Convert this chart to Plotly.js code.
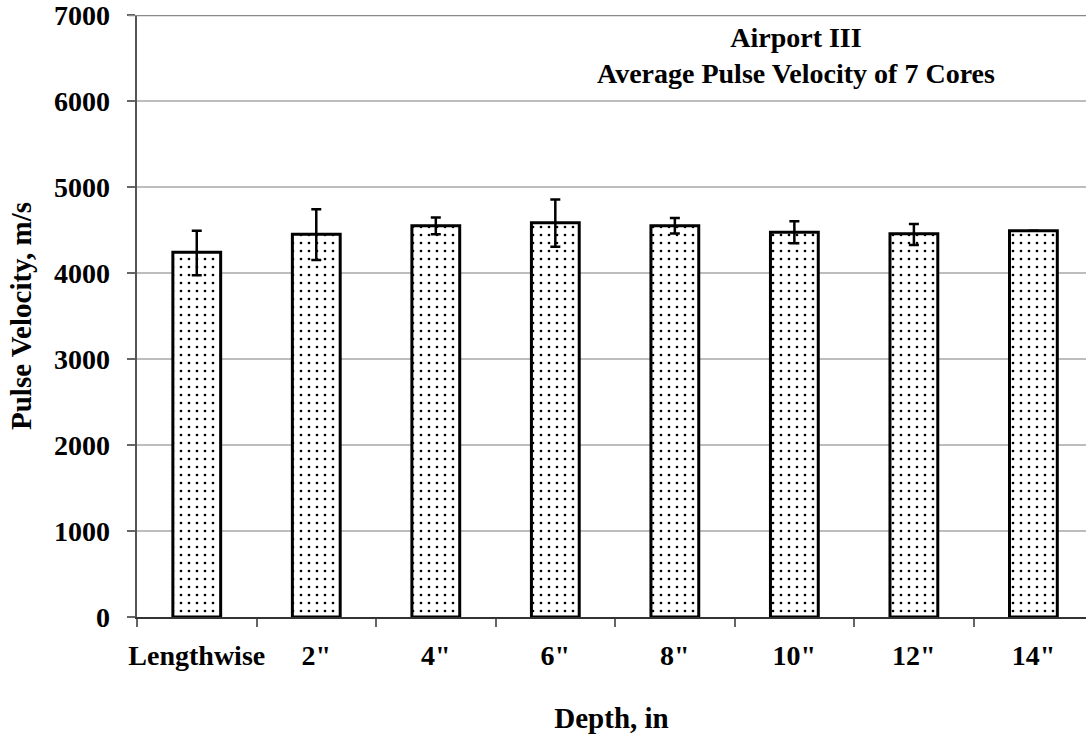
<!DOCTYPE html>
<html>
<head>
<meta charset="utf-8">
<script src="https://cdn.plot.ly/plotly-3.0.1.min.js"></script>
<style>html,body{margin:0;padding:0;background:#fff;}#chart{width:1086px;height:740px;}</style>
</head>
<body>
<div id="chart"></div>
<script>
const categories = ['Lengthwise', '2"', '4"', '6"', '8"', '10"', '12"', '14"'];
const velocity = [4240, 4450, 4550, 4585, 4550, 4475, 4455, 4490];
const errorPlus = [250, 290, 95, 270, 90, 128, 115, 0];
const errorMinus = [265, 300, 100, 280, 90, 130, 128, 0];
const titleLines = ['Airport III', 'Average Pulse Velocity of 7 Cores'];
const yTicks = [0, 1000, 2000, 3000, 4000, 5000, 6000, 7000];

const font = 'Liberation Serif, Times New Roman, serif';

const trace = {
  type: 'bar',
  x: categories,
  y: velocity,
  width: 0.4,
  marker: {
    color: '#ffffff',
    line: {color: '#000', width: 3},
    pattern: {shape: '.', size: 8, solidity: 0.09, fgcolor: '#000', bgcolor: '#fff'}
  },
  error_y: {
    type: 'data',
    symmetric: false,
    array: errorPlus,
    arrayminus: errorMinus,
    color: '#000',
    thickness: 2.5,
    width: 5,
    visible: true
  },
  hoverinfo: 'none'
};

const layout = {
  width: 1086, height: 740,
  margin: {l: 137, r: 0, t: 15, b: 123},
  paper_bgcolor: '#fff', plot_bgcolor: '#fff',
  showlegend: false,
  font: {family: font, size: 28, color: '#000'},
  xaxis: {
    type: 'category',
    range: [-0.5, 7.44],
    tickson: 'boundaries',
    tickangle: 0,
    automargin: false,
    ticks: 'outside', ticklen: 8, tickwidth: 2, tickcolor: '#666',
    showline: true, linecolor: '#333', linewidth: 2,
    showgrid: false,
    ticklabelstandoff: 12,
    tickfont: {family: font, size: 28, color: '#000', weight: 'bold'},
    title: {text: '<b>Depth, in</b>', font: {family: font, size: 29, color: '#000'}, standoff: 38}
  },
  yaxis: {
    range: [0, 7000],
    tickvals: yTicks,
    automargin: false,
    ticklabeloverflow: 'allow',
    ticks: 'outside', ticklen: 8, tickwidth: 2, tickcolor: '#666',
    showline: true, linecolor: '#555', linewidth: 2.5,
    showgrid: true, gridcolor: '#bdbdbd', gridwidth: 2,
    zeroline: false,
    ticklabelstandoff: 11,
    tickfont: {family: font, size: 28, color: '#000', weight: 'bold'},
    title: {text: '<b>Pulse Velocity, m/s</b>', font: {family: font, size: 29, color: '#000'}, standoff: 14}
  },
  shapes: [
    {type: 'line', xref: 'paper', yref: 'y', x0: -0.009, x1: 1, y0: 7000, y1: 7000,
     line: {color: '#888', width: 2.5}}
  ],
  annotations: [
    {xref: 'paper', yref: 'paper', x: (796 - 137) / 949, y: (617 - 56) / 602, xanchor: 'center', yanchor: 'middle',
     align: 'center',
     text: '<b>' + titleLines[0] + '</b><br><b>' + titleLines[1] + '</b>', showarrow: false,
     font: {family: font, size: 28, color: '#000'}}
  ]
};

Plotly.newPlot('chart', [trace], layout, {displayModeBar: false, staticPlot: true});
</script>
</body>
</html>
